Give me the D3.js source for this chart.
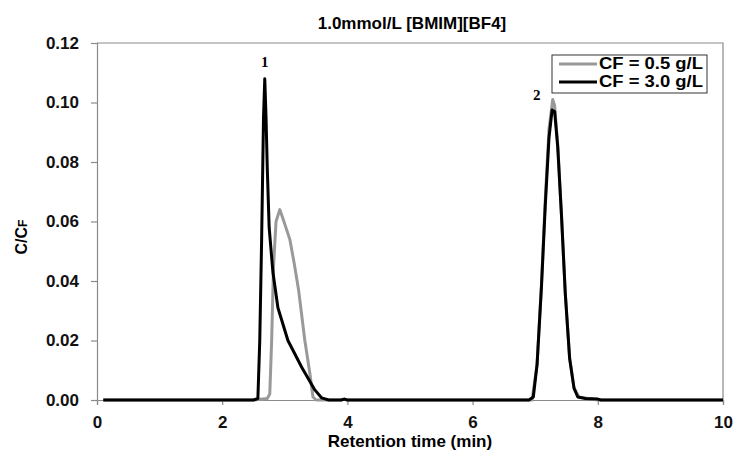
<!DOCTYPE html>
<html><head><meta charset="utf-8">
<script src="https://cdn.jsdelivr.net/npm/d3@7/dist/d3.min.js"></script>
<style>body{margin:0;background:#fff}svg{display:block}</style>
</head><body><svg id="c" width="734" height="456"></svg>
<script>
const title = "1.0mmol/L [BMIM][BF4]";
const xTicks = [0, 2, 4, 6, 8, 10];
const yTicks = [0, 0.02, 0.04, 0.06, 0.08, 0.10, 0.12];
const seriesNames = ["CF = 0.5 g/L", "CF = 3.0 g/L"];
const timeLow = [0.1,1.0,2.0,2.5,2.72,2.76,2.79,2.82,2.86,2.92,2.97,3.08,3.15,3.22,3.32,3.40,3.45,3.5,3.9,3.95,4.0,5.0,6.95,7.03,7.10,7.16,7.22,7.28,7.31,7.36,7.42,7.48,7.55,7.62,7.7,8.0,10];
const valLow  = [0,0,0,0,0.0005,0.002,0.02,0.045,0.060,0.064,0.061,0.054,0.046,0.037,0.020,0.009,0.001,0,0,0.0003,0,0,0,0.012,0.039,0.067,0.091,0.101,0.099,0.086,0.062,0.036,0.014,0.004,0.001,0,0];
const timeHigh = [0.1,1.0,2.0,2.5,2.57,2.6,2.63,2.66,2.68,2.70,2.72,2.75,2.81,2.89,3.05,3.27,3.48,3.59,3.7,3.9,3.95,4.0,5.0,6.9,6.97,7.03,7.10,7.16,7.22,7.27,7.31,7.36,7.42,7.48,7.55,7.62,7.68,7.8,8.0,8.05,10];
const valHigh  = [0,0,0,0,0.0005,0.02,0.054,0.095,0.108,0.095,0.078,0.058,0.043,0.031,0.020,0.011,0.0034,0.0007,0,0,0.0003,0,0,0,0.001,0.012,0.038,0.065,0.088,0.0975,0.097,0.085,0.062,0.036,0.014,0.004,0.001,0.0005,0.0003,0,0];
const peakLabels = ["1", "2"];
const peakT = [2.68, 7.28];
const peakV = [0.108, 0.101];

const svg = d3.select("#c");
const M = {l:97, r:723, t:43, b:400};
const x = d3.scaleLinear().domain([0,10]).range([M.l, M.r]);
const y = d3.scaleLinear().domain([0,0.12]).range([M.b, M.t]);
const axisCol = "#8a8a8a";
const font = "'Liberation Sans', Arial, sans-serif";

svg.append("path").attr("d", `M${M.l},${M.t}H${M.r}V${M.b}`).attr("fill","none").attr("stroke",axisCol).attr("stroke-width",1.2);

const ya = svg.append("g").attr("transform",`translate(${M.l},0)`)
  .call(d3.axisLeft(y).tickValues(yTicks).tickFormat(d3.format(".2f")).tickSize(6).tickPadding(12));
const xa = svg.append("g").attr("transform",`translate(0,${M.b})`)
  .call(d3.axisBottom(x).tickValues(xTicks).tickFormat(d3.format("d")).tickSize(5).tickPadding(11));
[ya, xa].forEach(a => {
  a.selectAll("path,line").attr("stroke", axisCol).attr("stroke-width",1.2);
  a.selectAll("text").attr("font-family", font).attr("font-weight","bold").attr("font-size",17).attr("fill","#111");
});

const line = d3.line().x(d=>x(d[0])).y(d=>y(d[1]));
const low = timeLow.map((t,i)=>[t,valLow[i]]);
const high = timeHigh.map((t,i)=>[t,valHigh[i]]);
svg.append("path").datum(low).attr("d",line).attr("fill","none").attr("stroke","#999").attr("stroke-width",3).attr("stroke-linejoin","round");
svg.append("path").datum(high).attr("d",line).attr("fill","none").attr("stroke","#000").attr("stroke-width",3).attr("stroke-linejoin","round");

peakLabels.forEach((p,i)=>{
  svg.append("text").attr("x", x(peakT[i]) + (i===0?0:-16)).attr("y", y(peakV[i]) - (i===0?12:0))
    .attr("text-anchor","middle").attr("font-family","'Liberation Serif', 'Times New Roman', serif")
    .attr("font-weight","bold").attr("font-size",15).text(p);
});

svg.append("text").attr("x", 412).attr("y", 29).attr("text-anchor","middle")
  .attr("font-family", font).attr("font-weight","bold").attr("font-size",17).text(title);
svg.append("text").attr("x", 410).attr("y", 447).attr("text-anchor","middle")
  .attr("font-family", font).attr("font-weight","bold").attr("font-size",17).text("Retention time (min)");
const yl = svg.append("text").attr("transform","translate(27,237) rotate(-90)").attr("text-anchor","middle")
  .attr("font-family", font).attr("font-weight","bold").attr("font-size",16);
yl.append("tspan").text("C/C");
yl.append("tspan").attr("font-size",12).text("F");

const lg = svg.append("g");
lg.append("rect").attr("x",552).attr("y",55).attr("width",155).attr("height",38).attr("fill","#fff").attr("stroke","#333").attr("stroke-width",1);
const cols = ["#999","#000"];
seriesNames.forEach((s,i)=>{
  const yy = 64 + i*18;
  lg.append("line").attr("x1",559).attr("x2",597).attr("y1",yy).attr("y2",yy).attr("stroke",cols[i]).attr("stroke-width",3);
  lg.append("text").attr("x",599).attr("y",yy+5).attr("font-family",font).attr("font-weight","bold").attr("font-size",16)
    .attr("textLength",104).attr("lengthAdjust","spacingAndGlyphs").text(s);
});
</script></body></html>
